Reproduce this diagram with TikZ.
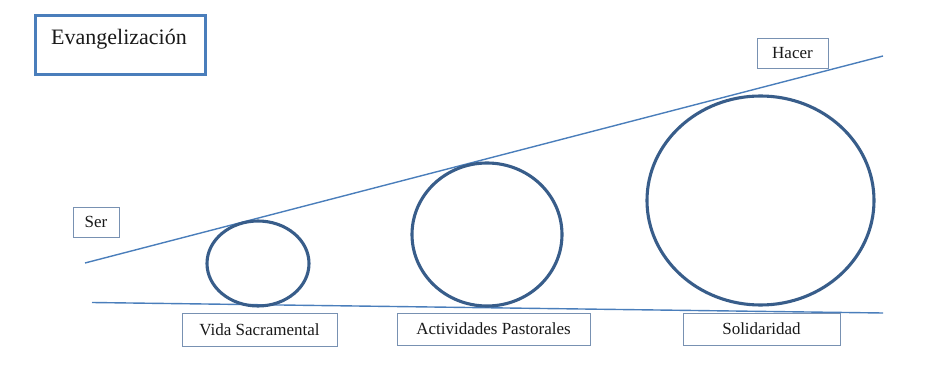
\documentclass[tikz,border=0pt]{standalone}
\usepackage{fontspec}
\setmainfont{Liberation Serif}
\usetikzlibrary{shapes.geometric}
\definecolor{titleblue}{RGB}{74,126,187}
\definecolor{lineblue}{RGB}{74,126,187}
\definecolor{circblue}{RGB}{56,93,138}
\definecolor{boxgray}{RGB}{120,145,178}
\tikzset{
  labelbox/.style={draw=boxgray, line width=0.9pt, inner sep=0pt, font=\fontsize{17}{20}\selectfont, text=black!90},
  circ/.style={draw=circblue, line width=3.1pt, ellipse, inner sep=0pt},
  guide/.style={draw=lineblue, line width=1.4pt}
}
\begin{document}
\begin{tikzpicture}[x=1pt,y=-1pt]
\useasboundingbox (0,0) rectangle (937,366);
% title
\node[draw=titleblue, line width=3pt, minimum width=170pt, minimum height=59pt, inner sep=0pt] (title) at (120,45.5) {};
\node[font=\fontsize{22}{26}\selectfont, text=black!90] (titletext) at (119,39) {Evangelización};
% guide lines
\coordinate (u1) at (85,263);
\coordinate (u2) at (883,56);
\coordinate (l1) at (92,302.5);
\coordinate (l2) at (883,313);
\draw[guide] (u1) -- (u2);
\draw[guide] (l1) -- (l2);
% circles
\node[circ, minimum width=102pt, minimum height=85pt] (c1) at (258,263.5) {};
\node[circ, minimum width=150pt, minimum height=143pt] (c2) at (487,234.5) {};
\node[circ, minimum width=227pt, minimum height=209pt] (c3) at (760.5,200.5) {};
% labels
\node[labelbox, minimum width=46pt, minimum height=30pt] (ser) at (96,222) {Ser};
\node[labelbox, minimum width=71pt, minimum height=30pt] (hacer) at (792.5,53) {Hacer};
\node[labelbox, minimum width=155pt, minimum height=33pt] (vida) at (259.5,329.5) {Vida Sacramental};
\node[labelbox, minimum width=193pt, minimum height=32pt] (act) at (493.5,329) {Actividades Pastorales};
\node[labelbox, minimum width=157pt, minimum height=32pt] (sol) at (761.5,329) {Solidaridad};
\end{tikzpicture}
\end{document}
